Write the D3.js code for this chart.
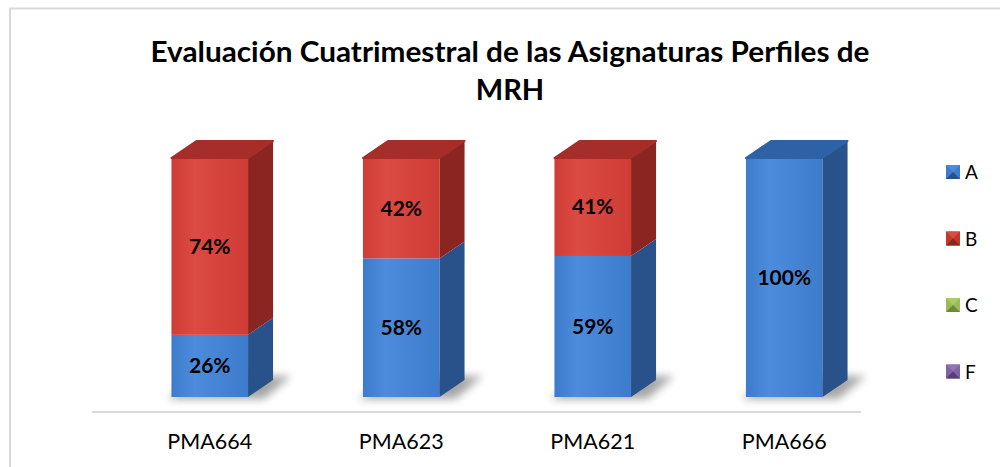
<!DOCTYPE html>
<html>
<head>
<meta charset="UTF-8" />
<style>
  body { margin: 0; background: #fff; }
  svg text { font-family: Lato, "Open Sans", sans-serif; }
  .title { font-weight: bold; font-size: 29px; fill: #000; text-anchor: middle; }
  .cat { font-size: 21.5px; fill: #000; text-anchor: middle; }
  .val { font-weight: bold; font-size: 21px; fill: #000; text-anchor: middle; }
  .leg { font-size: 19px; fill: #000; }
</style>
<script src="https://d3js.org/d3.v7.min.js"></script>
</head>
<body>
<svg width="1000" height="467"></svg>
<script>
// data
var categories = ["PMA664", "PMA623", "PMA621", "PMA666"];
var seriesNames = ["A", "B", "C", "F"];
var valuesA = [26, 58, 59, 100];
var valuesB = [74, 42, 41, 0];
var valuesC = [0, 0, 0, 0];
var valuesF = [0, 0, 0, 0];
var titleLines = ["Evaluación Cuatrimestral de las Asignaturas Perfiles de", "MRH"];

var svg = d3.select("svg");

// colours: front, side, top
var colors = {
  A: { front: "#3d7ccb", light: "#4d8cdc", side: "#29528a", top: "#2e62a6", legend: "#3d7ccb" },
  B: { front: "#cf3c36", light: "#dc4a44", side: "#8b2522", top: "#a62d2a", legend: "#c0392b" },
  C: { front: "#9bbb59", light: "#aacb66", side: "#6b8a35", top: "#7f9e45", legend: "#9bbb59" },
  F: { front: "#8064a2", light: "#9075b3", side: "#564076", top: "#684f8a", legend: "#8064a2" }
};

var rows = categories.map(function(c, i) {
  return { cat: c, A: valuesA[i], B: valuesB[i], C: valuesC[i], F: valuesF[i] };
});
var stacked = d3.stack().keys(seriesNames)(rows);

var x = d3.scaleBand().domain(categories).range([114, 880]).paddingInner(0.6).paddingOuter(0.3);
var y = d3.scaleLinear().domain([0, 100]).range([397, 158]);
var dx = 25, dy = 17;

// outer border
svg.append("rect")
   .attr("x", 10).attr("y", 8.5).attr("width", 1000).attr("height", 470)
   .attr("fill", "none").attr("stroke", "#d9d9d9").attr("stroke-width", 2);

var defs = svg.append("defs");
defs.append("filter").attr("id", "blur").attr("x", "-50%").attr("y", "-50%").attr("width", "200%").attr("height", "200%")
    .append("feGaussianBlur").attr("stdDeviation", 4);
seriesNames.forEach(function(k) {
  var g = defs.append("linearGradient").attr("id", "grad" + k).attr("x1", 0).attr("x2", 1).attr("y1", 0).attr("y2", 0);
  g.append("stop").attr("offset", "0%").attr("stop-color", colors[k].front);
  g.append("stop").attr("offset", "30%").attr("stop-color", colors[k].light);
  g.append("stop").attr("offset", "100%").attr("stop-color", colors[k].front);
});

// floor line
svg.append("line")
   .attr("x1", 92).attr("x2", 861).attr("y1", 412).attr("y2", 412)
   .attr("stroke", "#d9d9d9").attr("stroke-width", 2);

// shadows
svg.append("g").selectAll("path")
   .data(categories)
   .enter().append("path")
   .attr("d", function(c) {
     var x0 = x(c), x1 = x(c) + x.bandwidth(), yb = y(0);
     return "M" + (x0 - 4) + "," + (yb + 2) + "L" + (x1 + 16) + "," + (yb + 2) +
            "L" + (x1 + dx + 18) + "," + (yb - dy - 4) + "L" + (x0 + dx) + "," + (yb - dy - 4) + "Z";
   })
   .attr("fill", "#000").attr("opacity", 0.35).attr("filter", "url(#blur)");

// bars
var bars = svg.append("g");
categories.forEach(function(c, i) {
  var x0 = x(c), x1 = x(c) + x.bandwidth();
  var topKey = null;
  stacked.forEach(function(s) { if (s[i][1] - s[i][0] > 0) topKey = s.key; });
  stacked.forEach(function(s) {
    var d = s[i];
    if (d[1] - d[0] <= 0) return;
    var yb = y(d[0]), yt = y(d[1]), col = colors[s.key];
    bars.append("rect")
        .attr("x", x0).attr("y", yt).attr("width", x1 - x0).attr("height", yb - yt)
        .attr("fill", "url(#grad" + s.key + ")");
    bars.append("path")
        .attr("d", "M" + x1 + "," + yb + "L" + (x1 + dx) + "," + (yb - dy) + "L" + (x1 + dx) + "," + (yt - dy) + "L" + x1 + "," + yt + "Z")
        .attr("fill", col.side);
    if (s.key === topKey) {
      bars.append("path")
          .attr("d", "M" + x0 + "," + yt + "L" + (x0 + dx) + "," + (yt - dy) + "L" + (x1 + dx) + "," + (yt - dy) + "L" + x1 + "," + yt + "Z")
          .attr("fill", col.top).attr("stroke", col.top).attr("stroke-width", 2).attr("stroke-linejoin", "round");
    }
    bars.append("text")
        .attr("class", "val")
        .attr("x", (x0 + x1) / 2)
        .attr("y", (yb + yt) / 2 + 7.5)
        .text(d.data[s.key] + "%");
  });
});

// category labels
svg.append("g").selectAll("text")
   .data(categories)
   .enter().append("text")
   .attr("class", "cat")
   .attr("x", function(c) { return x(c) + x.bandwidth() / 2; })
   .attr("y", 449)
   .text(function(c) { return c; });

// title
svg.append("g").selectAll("text")
   .data(titleLines)
   .enter().append("text")
   .attr("class", "title")
   .attr("x", 510)
   .attr("y", function(d, i) { return 62 + i * 38; })
   .attr("textLength", function(d, i) { return i === 0 ? 719 : null; })
   .attr("lengthAdjust", "spacingAndGlyphs")
   .text(function(d) { return d; });

// legend
var legend = svg.append("g").selectAll("g")
   .data(seriesNames)
   .enter().append("g")
   .attr("transform", function(d, i) { return "translate(946," + (165 + i * 66.5) + ")"; });
legend.append("rect").attr("width", 14).attr("height", 14)
      .attr("fill", function(d) { return colors[d].legend; });
legend.append("path").attr("d", "M0,0L14,0L7,7Z").attr("fill", function(d) { return colors[d].light; });
legend.append("path").attr("d", "M0,14L14,14L7,7Z").attr("fill", function(d) { return colors[d].side; });
legend.append("text").attr("class", "leg").attr("x", 19).attr("y", 14).text(function(d) { return d; });
</script>
</body>
</html>
